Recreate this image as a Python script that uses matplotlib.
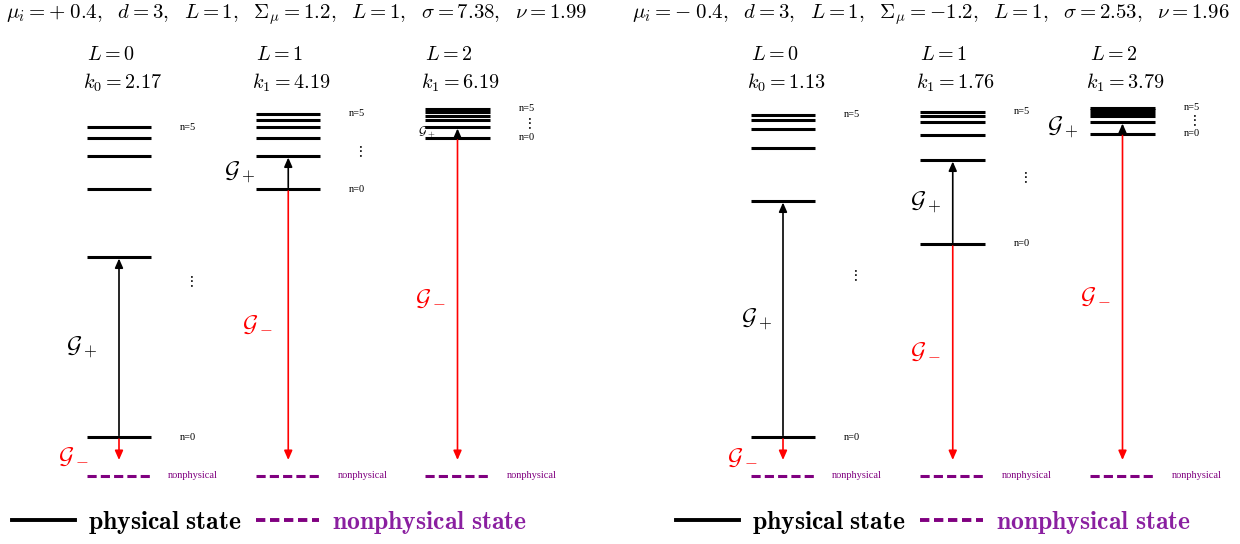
import matplotlib
matplotlib.use('Agg')
import matplotlib.pyplot as plt
from matplotlib.lines import Line2D

plt.rcParams['mathtext.fontset'] = 'cm'
plt.rcParams['font.family'] = ['Liberation Serif', 'DejaVu Serif']

# Niveles de energía (n = 0..5) para cada L, panel izquierdo y derecho
niveles_izq = [[3.9, 21.9, 28.7, 32.0, 33.8, 34.9],
               [28.7, 32.0, 33.8, 34.9, 35.6, 36.2],
               [33.8, 34.9, 35.65, 36.05, 36.45, 36.75]]
niveles_der = [[3.9, 27.5, 32.8, 34.7, 35.65, 36.15],
               [23.2, 31.6, 34.15, 35.4, 36.0, 36.45],
               [34.25, 35.4, 36.0, 36.35, 36.6, 36.8]]
k_izq = [2.17, 4.19, 6.19]
k_der = [1.13, 1.76, 3.79]
k_sub = ['0', '1', '1']
L_vals = [0, 1, 2]
E_nofisico = 0.0   # nivel no físico
E_fin_rojo = 1.6   # punta de las flechas G_-

titulo_izq = r'$\mu_i=+\;0.4,\ \ d=3,\ \ L=1,\ \ \Sigma_\mu=1.2,\ \ L=1,\ \ \sigma=7.38,\ \ \nu=1.99$'
titulo_der = r'$\mu_i=-\;0.4,\ \ d=3,\ \ L=1,\ \ \Sigma_\mu=-1.2,\ \ L=1,\ \ \sigma=2.53,\ \ \nu=1.96$'

# Posición de las etiquetas G (desplazamiento en x respecto a la columna, tamaño)
gmas_izq = [(-0.22, 17), (-0.285, 17), (-0.18, 9)]
gmas_der = [(-0.155, 17), (-0.16, 17), (-0.35, 17)]
gmenos_izq = [(-0.27, 1.9), (-0.18, None), (-0.16, None)]
gmenos_der = [(-0.24, 1.8), (-0.16, None), (-0.16, None)]

W, H = 1240, 544
fig = plt.figure(figsize=(W / 100, H / 100), dpi=100)

morado = '#800080'
hw = 0.19  # media anchura de cada nivel


def panel(ax, niveles, kv, gmas, gmenos):
    for j, lev in enumerate(niveles):
        for E in lev:
            ax.plot([j - hw, j + hw], [E, E], color='black', lw=2.2,
                    solid_capstyle='butt', zorder=3)
        ax.plot([j - hw, j + hw], [E_nofisico, E_nofisico], color=morado, lw=2.2,
                linestyle=(0, (3.0, 1.35)), zorder=3)
        ax.text(j + 0.29, E_nofisico, 'nonphysical', color=morado, fontsize=7.5,
                ha='left', va='center')
        # etiquetas n=0, n=5 y puntos
        ax.text(j + 0.36, lev[-1], 'n=5', fontsize=7.5, ha='left', va='center')
        ax.text(j + 0.36, lev[0], 'n=0', fontsize=7.5, ha='left', va='center')
        ax.text(j + 0.42, (lev[0] + lev[-1]) / 2, r'$\vdots$', fontsize=11,
                ha='center', va='center')
        # L y k
        ax.text(j - hw, 42.1, r'$L=%d$' % L_vals[j], fontsize=14.5, ha='left', va='center')
        ax.text(j - hw - 0.025, 39.3, r'$k_{%s}=%.2f$' % (k_sub[j], kv[j]),
                fontsize=14.5, ha='left', va='center')
        # flecha G+ (n=0 -> n=1)
        ax.annotate('', xy=(j, lev[1] - 0.15), xytext=(j, lev[0] + 0.15),
                    arrowprops=dict(arrowstyle='-|>,head_length=0.5,head_width=0.22',
                                    color='black', lw=1.2, mutation_scale=11,
                                    shrinkA=0, shrinkB=0), zorder=4)
        dx, fs = gmas[j]
        ax.text(j + dx, (lev[0] + lev[1]) / 2, r'$\mathcal{G}_+$', fontsize=fs,
                ha='center', va='center', zorder=2)
        # flecha G- (n=0 -> no físico)
        ax.annotate('', xy=(j, E_fin_rojo), xytext=(j, lev[0] - 0.2),
                    arrowprops=dict(arrowstyle='-|>,head_length=0.5,head_width=0.22',
                                    color='red', lw=1.2, mutation_scale=11,
                                    shrinkA=0, shrinkB=0), zorder=4)
        dx, ey = gmenos[j]
        if ey is None:
            ey = (lev[0] + E_fin_rojo) / 2
        ax.text(j + dx, ey, r'$\mathcal{G}_-$', fontsize=17, color='red',
                ha='center', va='center')


ax1 = fig.add_axes([0, 0, 0.5, 1])
ax1.set_xlim(-119 / 169.25, 501 / 169.25)
ax2 = fig.add_axes([0.5, 0, 0.5, 1])
ax2.set_xlim(-163 / 169.75, 457 / 169.75)
for ax in (ax1, ax2):
    ax.set_ylim(-6.8, 47.6)
    ax.axis('off')

panel(ax1, niveles_izq, k_izq, gmas_izq, gmenos_izq)
panel(ax2, niveles_der, k_der, gmas_der, gmenos_der)

fig.text(297 / W, 1 - 18 / H, titulo_izq, fontsize=15, ha='center', va='baseline')
fig.text(931 / W, 1 - 18 / H, titulo_der, fontsize=15, ha='center', va='baseline')

# Leyendas inferiores
for x0 in (12, 676):
    handles = [Line2D([], [], color='black', lw=2.8),
               Line2D([], [], color=morado, lw=2.8, linestyle=(0, (2.4, 1.2)))]
    leg = fig.legend(handles, [r'$\mathbf{physical\ state}$', r'$\mathbf{nonphysical\ state}$'],
                     loc='center left', bbox_to_anchor=(x0 / W, 22 / H), ncol=2,
                     frameon=False, fontsize=18.5, handlelength=2.45, handletextpad=0.5,
                     columnspacing=0.58, borderpad=0, borderaxespad=0)
    leg.get_texts()[1].set_color('#8a1fa0')

fig.savefig('out.png', dpi=100)
